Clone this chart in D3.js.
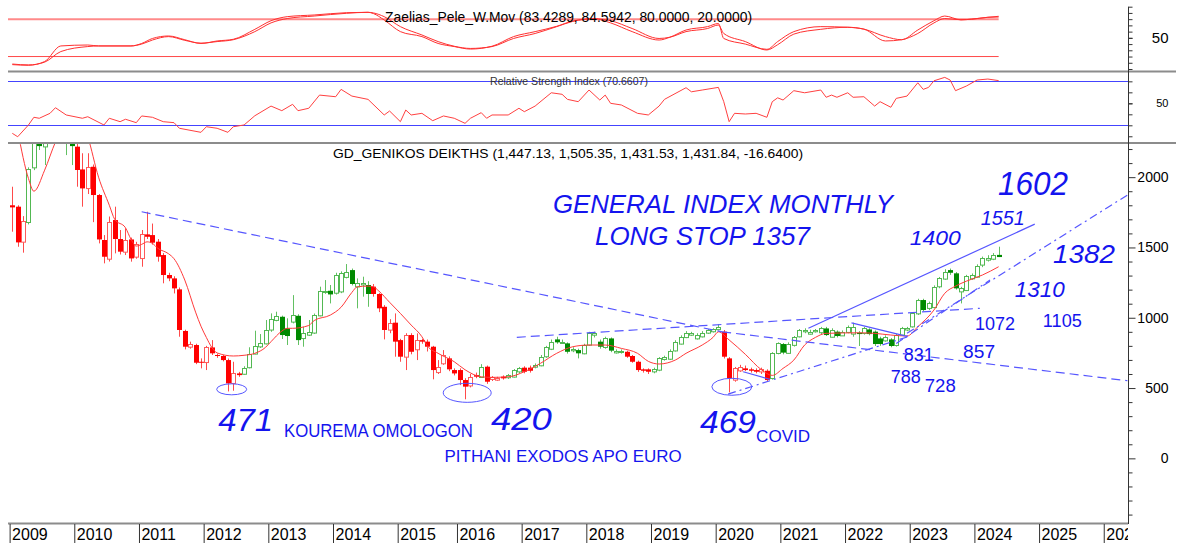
<!DOCTYPE html>
<html>
<head>
<meta charset="utf-8">
<script src="https://cdn.jsdelivr.net/npm/d3@7"></script>
<style>
  html, body { margin: 0; padding: 0; background: #fff; }
  svg { display: block; font-family: "Liberation Sans", Arial, sans-serif; }
</style>
</head>
<body>
<svg id="chart" width="1180" height="549"></svg>
<script>
// ---- data (monthly bars, Jan 2009 .. May 2024, July 2015 missing: market closed) ----
var years     = ['2009','2010','2011','2012','2013','2014','2015','2016','2017','2018','2019','2020','2021','2022','2023','2024','2025','2026'];
var yearStart = [0, 12, 24, 36, 48, 60, 72, 83, 95, 107, 119, 131, 143, 155, 167, 179, 191, 203];

var opens = [1800,1790,1541,1678,2070,2300,2221,2480,2700,2900,2700,2400,
  2217,2055,1920,2074,1873,1553,1422,1695,1560,1470,1557,1434,
  1422,1593,1588,1541,1446,1304,1280,1202,906,794,806,687,
  687,789,735,728,699,533,604,604,645,747,794,818,
  913,984,1007,924,972,1014,853,882,894,1019,1185,1192,
  1178,1185,1292,1339,1221,1240,1233,1221,1169,1078,913,965,
  841,723,877,775,841,830,794,616,676,711,628,
  628,557,521,592,581,652,562,562,581,576,581,616,
  645,645,652,664,723,782,846,825,818,766,770,747,
  806,877,830,789,853,756,756,758,728,687,633,633,
  616,628,704,711,770,818,865,877,853,870,894,901,
  917,901,711,557,628,640,633,628,616,623,569,747,
  813,752,806,865,901,889,901,894,924,865,901,877,
  901,889,894,889,917,901,853,841,846,806,877,913,
  936,1031,1126,1067,1078,1221,1280,1339,1316,1185,1197,1280,
  1292,1375,1410,1422,1447.13];
var highs = [1932,1800,1723,2070,2340,2360,2520,2760,2950,2960,2750,2450,
  2280,2170,2170,2090,1880,1588,1720,1790,1624,1636,1570,1540,
  1624,1754,1670,1560,1460,1320,1295,1215,915,830,815,711,
  800,841,745,735,710,687,615,655,790,908,884,984,
  1031,1043,1015,996,1161,1025,936,984,1030,1221,1268,1233,
  1320,1330,1382,1350,1280,1292,1260,1240,1175,1090,990,1031,
  850,890,890,889,850,845,800,699,770,725,640,
  640,570,600,610,670,660,585,580,590,600,635,650,
  655,660,675,735,800,845,865,845,825,790,780,815,
  900,901,845,865,860,775,775,765,735,695,640,640,
  645,720,730,775,840,875,905,900,890,905,920,925,
  955,913,720,650,665,660,645,640,645,633,755,825,
  820,825,870,920,925,915,920,935,935,925,910,910,
  945,965,905,935,925,910,865,875,855,885,935,935,
  1040,1135,1135,1115,1230,1290,1345,1350,1325,1220,1305,1315,
  1380,1435,1445,1460,1505.35];
var lows = [1612,1505,1463,1664,2050,2193,2086,2440,2650,2550,2157,2086,
  1932,1790,1880,1680,1529,1387,1400,1458,1450,1446,1399,1420,
  1363,1560,1520,1399,1245,1260,1173,865,775,780,670,640,
  628,735,715,690,476,481,580,595,640,740,785,810,
  900,975,849,806,960,806,794,870,885,1010,1170,1102,
  1165,1175,1280,1230,1067,1150,1078,1150,1040,846,890,723,
  687,628,740,699,815,760,562,600,665,620,590,
  521,420,505,570,575,530,550,550,560,565,575,605,
  605,610,640,655,715,770,815,815,745,755,711,740,
  800,860,780,780,755,745,745,715,680,615,610,600,
  605,620,695,700,760,810,855,870,845,860,885,895,
  910,710,469,545,615,620,610,605,600,545,560,740,
  740,745,795,860,890,880,895,885,870,860,860,870,
  890,865,799,880,875,799,800,830,790,795,870,905,
  930,1020,1045,1055,1070,1210,1270,1305,1200,1102,1190,1270,
  1285,1360,1400,1410,1431.53];
var closes = [1785,1536,1688,2055,2300,2221,2480,2700,2900,2700,2400,2221,
  2051,1920,2070,1873,1557,1434,1683,1560,1470,1553,1422,1524,
  1593,1576,1534,1434,1304,1280,1209,913,794,813,680,680,
  794,747,728,699,533,604,592,645,739,801,818,913,
  988,1012,877,870,1019,841,889,901,1019,1192,1192,1166,
  1304,1316,1327,1240,1245,1250,1169,1169,1067,913,960,830,
  723,877,758,841,830,794,628,652,735,633,604,
  557,510,581,581,652,545,576,574,569,592,628,640,
  616,623,664,723,789,830,825,830,758,775,747,806,
  889,889,794,853,766,766,761,723,687,628,623,616,
  633,711,718,766,830,865,894,889,877,894,913,917,
  932,723,569,640,652,628,623,616,633,557,747,818,
  752,815,862,910,910,901,910,924,877,913,870,901,
  936,936,884,924,884,813,813,865,799,877,924,924,
  1031,1126,1055,1102,1221,1280,1327,1320,1209,1209,1297,1304,
  1368,1422,1422,1448.48,1431.84];

// bar ranges where the system shows the market in an up regime (green candles)
var upRegimes = [[3,11],[43,66],[87,87],[92,94],[97,113],[119,131],[141,183]];

// red moving average on the price panel: [bar, value]
var maLine = [[1,2330],[3,1990],[4,1900],[6,2050],[8,2250],[9,2330],[11,2500],[13,2400],[14,2290],
  [16,2000],[18,1800],[19,1700],[21,1640],[22,1560],[23,1510],[24,1522],[25,1540],[26,1529],[27,1494],
  [29,1455],[30,1420],[32,1268],[34,1040],[35,940],[36,860],[37,790],[38,750],[41,728],[43,733],
  [45,747],[47,790],[48,830],[50,905],[51,925],[52,925],[55,945],[56,980],[59,1019],[61,1075],
  [63,1180],[64,1220],[66,1225],[67,1220],[68,1190],[70,1110],[72,1031],[74,948],[76,865],[77,800],
  [79,747],[82,687],[84,630],[87,580],[89,576],[92,580],[95,616],[98,676],[101,747],[104,794],
  [107,806],[110,806],[113,782],[116,747],[118,690],[120,671],[123,699],[125,747],[128,806],
  [130,860],[131,900],[133,842],[136,740],[139,630],[141,590],[143,640],[145,699],[147,806],
  [149,860],[151,889],[157,893],[160,889],[163,877],[166,870],[168,936],[171,1055],[173,1174],
  [175,1225],[177,1260],[180,1304],[183,1363]];

// Zaelias_Pele_W.Mov: [bar, line 1, line 2]
var zaelias = [[0,7,8],[3,6,6.5],[6,12,11],[9,37,28],[14,38.5,36],[16,37,37],[22,37,37],[24,41,40],
  [26,49,46.5],[29,53,52],[32,47,46],[35,41,41.5],[38,45,44],[41,47.7,47],[45,63.7,60],[48,77.5,74],
  [51,84,81],[56,86.7,85],[62,90.4,89.4],[66,91,91],[67,89,90],[69,78.6,84],[72,60,68],[76,52,54.6],
  [79,41,44],[82,36,36.5],[85,32,33],[89,36.5,36],[93,52,49],[97,60,57],[101,68.5,68],[104,77,76.5],
  [108,80.7,80.7],[111,74,77.5],[115,60,65],[120,46.5,49],[122,51,51],[125,62.6,60],[129,68,65],
  [131,73,70.6],[132,49,57],[136,40,44],[140,31.6,30.5],[142,44,39],[145,60,56],[150,68,63.7],
  [155,67,67],[158,64,64],[162,52,45],[165,47,47],[168,62.6,57],[171,77.5,74],[173,85,81],
  [176,79,79],[178,80,80],[181,83,83],[183,83.43,84.59]];
var zLevels = [80, 20];

// Relative Strength Index: [bar, value]
var rsi = [[0,22.7],[1,19.6],[3,30.3],[4,37.3],[5,36.4],[7,40.9],[8,46],[10,39.4],[13,36.4],[14,37.8],
  [17,30.3],[18,36.4],[20,33.3],[21,35.5],[23,32.4],[24,38.5],[26,37.3],[28,33.3],[30,32.4],[31,27.3],
  [35,23.6],[36,28.7],[38,27.3],[40,23.6],[41,28.7],[43,30.3],[45,38.7],[48,47.5],[50,43.3],[52,49.1],
  [53,43.3],[55,45.5],[57,57.5],[60,56],[61,62.7],[63,56.6],[66,53.6],[69,39.4],[70,43],[72,33.3],
  [73,43.9],[74,39.4],[76,40.9],[78,34.2],[80,38.5],[82,36.4],[84,31.8],[85,36.4],[87,41.5],[88,36.4],
  [89,39.4],[92,39.4],[94,45.5],[95,42.4],[97,47.5],[100,59.6],[102,58.2],[103,53.6],[105,51.5],
  [107,62.1],[109,53],[110,57.5],[111,50],[113,48.5],[116,40.9],[118,39.4],[120,47.5],[121,53.6],
  [125,64.2],[126,60.5],[128,62.1],[131,64.5],[132,51.5],[133,33.3],[134,40.9],[136,40.3],[138,40.9],
  [140,37.3],[141,51.5],[142,55],[143,53],[145,61.5],[147,59.6],[150,62.1],[151,55.5],[152,57.5],
  [153,55.5],[155,59.6],[156,55.5],[158,56],[160,47.5],[161,51.5],[163,46.4],[164,54.5],[166,56.6],
  [168,68.7],[169,62.7],[170,64.5],[171,70.5],[173,73.6],[174,71.2],[175,61.5],[177,65.7],[179,71.2],
  [181,72.1],[183,70.66]];
var rsiLevels = [70, 30];

// hand drawn trend lines: [bar, value] end points
var trendLines = [
  { a: [24.0, 1754],  b: [131.7, 900],  kind: 'dash' },
  { a: [131.7, 900],  b: [206.9, 552],  kind: 'dash' },
  { a: [93.6, 861],   b: [179.5, 1067], kind: 'dash' },
  { a: [147.7, 925],  b: [189.7, 1666], kind: 'solid' },
  { a: [155.7, 964],  b: [166, 868],    kind: 'solid' },
  { a: [135.6, 616],  b: [140.6, 562],  kind: 'solid' },
  { a: [132.8, 457],  b: [166.6, 870],  kind: 'dashdot' },
  { a: [166, 889],    b: [206.9, 1873], kind: 'dashdot' },
  { a: [164, 817],    b: [181.4, 1268], kind: 'dashdot' }
];
var lowRings = [[40.7, 491, 15, 5.5], [84.4, 466, 24, 9.5], [133.5, 509, 20, 8.5]];

var notes = [
  { t: 'GENERAL INDEX MONTHLY', i: 100.3, v: 1744, hand: true, size: 26, len: 340 },
  { t: 'LONG STOP 1357',        i: 108.1, v: 1520, hand: true, size: 26, len: 215 },
  { t: '1602', i: 182.9, v: 1873, hand: true, size: 33, len: 70 },
  { t: '1551', i: 179.7, v: 1660, hand: true, size: 21, len: 44 },
  { t: '1400', i: 166.5, v: 1518, hand: true, size: 20, len: 51 },
  { t: '1382', i: 193.1, v: 1389, hand: true, size: 25, len: 62 },
  { t: '1310', i: 186.0, v: 1148, hand: true, size: 22, len: 50 },
  { t: '471',  i: 38.2,  v: 194,  hand: true, size: 32, len: 55 },
  { t: '420',  i: 88.8,  v: 201,  hand: true, size: 31, len: 61 },
  { t: '469',  i: 127.6, v: 180,  hand: true, size: 31, len: 56 },
  { t: '1072', i: 178.6, v: 912,  size: 18, len: 40 },
  { t: '1105', i: 191.2, v: 934,  size: 18, len: 39 },
  { t: '831',  i: 165.4, v: 692,  size: 18, len: 30 },
  { t: '857',  i: 176.4, v: 713,  size: 18, len: 32 },
  { t: '788',  i: 163.0, v: 536,  size: 18, len: 30 },
  { t: '728',  i: 169.3, v: 472,  size: 18, len: 31 },
  { t: 'KOUREMA OMOLOGON',        i: 50.4,  v: 152, size: 18, len: 189 },
  { t: 'PITHANI EXODOS APO EURO', i: 80.2,  v: -26, size: 17, len: 237 },
  { t: 'COVID',                   i: 138.0, v: 116, size: 16, len: 54 }
];

// ---- layout ----
var svg = d3.select('#chart'),
    left = 8,
    right = 1128,
    x = d3.scaleLinear().domain([-0.8, 207]).range([left, right]),
    yTop = d3.scaleLinear().domain([0, 100]).range([69, 6.7]),
    yRsi = d3.scaleLinear().domain([13.9, 78.5]).range([143, 72]),
    yMain = d3.scaleLinear().domain([-467, 2243]).range([524, 143]),
    lastBar = closes.length - 1,
    blue = '#1414ee',
    lineBlue = '#5656ff';

var defs = svg.append('defs');
function clip( id, x0, y0, x1, y1 ) {
  defs.append('clipPath').attr('id', id)
    .append('rect').attr('x', x0).attr('y', y0).attr('width', x1 - x0).attr('height', y1 - y0);
}
clip('clipTop', left, 4, right, 71);
clip('clipRsi', left, 72, right, 143);
clip('clipMain', left, 144, right, 523);
clip('clipX', 0, 524, right, 549);

// ---- top panel: Zaelias ----
var gTop = svg.append('g').attr('clip-path', 'url(#clipTop)');

gTop.selectAll('line.level')
  .data(zLevels)
  .enter().append('line')
  .attr('x1', x(-0.8)).attr('x2', x(lastBar))
  .attr('y1', function( d ) { return yTop(d); })
  .attr('y2', function( d ) { return yTop(d); })
  .attr('stroke', function( d ) { return d === 80 ? '#ff8a8a' : '#ff4a4a'; })
  .attr('stroke-width', function( d ) { return d === 80 ? 2 : 1; });

[1, 2].forEach(function( k ) {
  gTop.append('path')
    .datum(zaelias)
    .attr('fill', 'none')
    .attr('stroke', '#ff3030')
    .attr('stroke-width', 1)
    .attr('d', d3.line()
      .x(function( d ) { return x(d[0]); })
      .y(function( d ) { return yTop(d[k]); })
      .curve(d3.curveMonotoneX));
});

svg.append('text')
  .attr('x', 385).attr('y', 22)
  .attr('font-size', 14)
  .attr('textLength', 367).attr('lengthAdjust', 'spacingAndGlyphs')
  .text('Zaelias_Pele_W.Mov (83.4289, 84.5942, 80.0000, 20.0000)');

// ---- RSI panel ----
var gRsi = svg.append('g').attr('clip-path', 'url(#clipRsi)');

gRsi.selectAll('line.level')
  .data(rsiLevels)
  .enter().append('line')
  .attr('x1', left).attr('x2', right)
  .attr('y1', function( d ) { return Math.round(yRsi(d)) + 0.5; })
  .attr('y2', function( d ) { return Math.round(yRsi(d)) + 0.5; })
  .attr('stroke', '#4444ff')
  .attr('stroke-width', 1);

gRsi.append('path')
  .datum(rsi)
  .attr('fill', 'none')
  .attr('stroke', '#ff4040')
  .attr('stroke-width', 1)
  .attr('d', d3.line()
    .x(function( d ) { return x(d[0]); })
    .y(function( d ) { return yRsi(d[1]); }));

svg.append('text')
  .attr('x', 490).attr('y', 85)
  .attr('font-size', 10)
  .attr('fill', '#333')
  .attr('textLength', 158).attr('lengthAdjust', 'spacingAndGlyphs')
  .text('Relative Strength Index (70.6607)');

// ---- price panel ----
var gMain = svg.append('g').attr('clip-path', 'url(#clipMain)');

function isUp( i ) {
  return upRegimes.some(function( r ) { return i >= r[0] && i <= r[1]; });
}

var bars = closes.map(function( c, i ) {
  return { i: i, o: opens[i], h: highs[i], l: lows[i], c: c, rise: c >= opens[i], up: isUp(i) };
});

var candle = gMain.selectAll('g.bar')
  .data(bars)
  .enter().append('g')
  .attr('class', 'bar');

candle.append('line')
  .attr('x1', function( d ) { return Math.round(x(d.i)) + 0.5; })
  .attr('x2', function( d ) { return Math.round(x(d.i)) + 0.5; })
  .attr('y1', function( d ) { return yMain(d.h); })
  .attr('y2', function( d ) { return yMain(d.l); })
  .attr('stroke', function( d ) { return d.up ? '#62c062' : '#ff4a4a'; })
  .attr('stroke-width', 1);

candle.append('rect')
  .attr('x', function( d ) {
    var cx = Math.round(x(d.i));
    return d.rise ? cx - 1.5 : cx - 2;
  })
  .attr('width', function( d ) { return d.rise ? 4 : 5; })
  .attr('y', function( d ) {
    var top = yMain(Math.max(d.o, d.c));
    return d.rise ? Math.round(top) + 0.5 : top;
  })
  .attr('height', function( d ) {
    return Math.max(1, Math.abs(yMain(d.o) - yMain(d.c)));
  })
  .attr('fill', function( d ) {
    if ( d.rise ) { return '#fff'; }
    return d.up ? '#008a00' : '#ff0000';
  })
  .attr('stroke', function( d ) {
    if ( !d.rise ) { return 'none'; }
    return d.up ? '#52b852' : '#ff5a5a';
  })
  .attr('stroke-width', 1);

gMain.append('path')
  .datum(maLine)
  .attr('fill', 'none')
  .attr('stroke', '#ff3a3a')
  .attr('stroke-width', 1)
  .attr('d', d3.line()
    .x(function( d ) { return x(d[0]); })
    .y(function( d ) { return yMain(d[1]); })
    .curve(d3.curveMonotoneX));

// trend lines and rings
gMain.selectAll('line.trend')
  .data(trendLines)
  .enter().append('line')
  .attr('class', 'trend')
  .attr('x1', function( d ) { return x(d.a[0]); })
  .attr('y1', function( d ) { return yMain(d.a[1]); })
  .attr('x2', function( d ) { return x(d.b[0]); })
  .attr('y2', function( d ) { return yMain(d.b[1]); })
  .attr('stroke', lineBlue)
  .attr('stroke-width', 1.2)
  .attr('stroke-dasharray', function( d ) {
    if ( d.kind === 'dash' ) { return '9,5'; }
    if ( d.kind === 'dashdot' ) { return '8,4,2,4'; }
    return null;
  });

gMain.selectAll('ellipse')
  .data(lowRings)
  .enter().append('ellipse')
  .attr('cx', function( d ) { return x(d[0]); })
  .attr('cy', function( d ) { return yMain(d[1]); })
  .attr('rx', function( d ) { return d[2]; })
  .attr('ry', function( d ) { return d[3]; })
  .attr('fill', 'none')
  .attr('stroke', lineBlue)
  .attr('stroke-width', 1);

// handwritten notes use an italic face with a tight line box so stacked lines don't collide
gMain.selectAll('text.note')
  .data(notes)
  .enter().append('text')
  .attr('class', 'note')
  .attr('x', function( d ) { return x(d.i); })
  .attr('y', function( d ) { return yMain(d.v); })
  .attr('fill', blue)
  .attr('font-size', function( d ) { return d.size; })
  .attr('font-style', function( d ) { return d.hand ? 'italic' : 'normal'; })
  .attr('font-weight', 400)
  .attr('font-family', '"Liberation Sans", Arial, sans-serif')
  .attr('textLength', function( d ) { return d.len; })
  .attr('lengthAdjust', 'spacingAndGlyphs')
  .text(function( d ) { return d.t; });

svg.append('text')
  .attr('x', 333).attr('y', 158)
  .attr('font-size', 13.5)
  .attr('textLength', 470).attr('lengthAdjust', 'spacingAndGlyphs')
  .text('GD_GENIKOS DEIKTHS (1,447.13, 1,505.35, 1,431.53, 1,431.84, -16.6400)');

// ---- frames ----
[71.5, 143].forEach(function( y ) {
  svg.append('line')
    .attr('x1', left).attr('x2', 1176)
    .attr('y1', y).attr('y2', y)
    .attr('stroke', '#8c8c8c').attr('stroke-width', 2);
});
svg.append('line')
  .attr('x1', left).attr('x2', right)
  .attr('y1', 523.5).attr('y2', 523.5)
  .attr('stroke', '#8c8c8c').attr('stroke-width', 2);

// ---- right axes ----
function rightAxis( scale, values, size, labels, fontSize ) {
  var g = svg.append('g')
    .attr('transform', 'translate(' + (right + 0.5) + ',0)')
    .call(d3.axisRight(scale)
      .tickValues(values)
      .tickSize(size)
      .tickSizeOuter(0)
      .tickFormat(labels ? d3.format('d') : ''));
  g.select('.domain').remove();
  g.selectAll('line').attr('stroke', '#333');
  g.selectAll('text')
    .attr('text-anchor', 'end')
    .attr('x', 40)
    .attr('fill', '#000')
    .attr('font-size', fontSize)
    .attr('font-family', '"Liberation Sans", Arial, sans-serif');
  return g;
}

rightAxis(yTop, d3.range(0, 101, 10), 4, false);
rightAxis(yTop, [50], 4, true, 15);
rightAxis(yRsi, d3.range(20, 71, 10), 4, false);
rightAxis(yRsi, [50], 4, true, 11);
rightAxis(yMain, d3.range(-400, 2201, 100).filter(function( v ) { return v % 500 !== 0; }), 4, false);
rightAxis(yMain, [0, 500, 1000, 1500, 2000], 7, true, 14);

svg.append('line')
  .attr('x1', right + 0.5).attr('x2', right + 0.5)
  .attr('y1', 6.7).attr('y2', 524)
  .attr('stroke', '#333').attr('stroke-width', 1);

// ---- year axis ----
var gx = svg.append('g')
  .attr('clip-path', 'url(#clipX)')
  .append('g')
  .attr('transform', 'translate(0,524)')
  .call(d3.axisBottom(x)
    .tickValues(yearStart.map(function( d ) { return d - 0.5; }))
    .tickSize(19)
    .tickSizeOuter(0)
    .tickFormat(function( d, k ) { return years[k]; }));

gx.select('.domain').remove();
gx.selectAll('line').attr('stroke', '#333');
gx.selectAll('text')
  .attr('text-anchor', 'start')
  .attr('x', 2)
  .attr('y', 5)
  .attr('fill', '#000')
  .attr('font-size', 16)
  .attr('font-family', '"Liberation Sans", Arial, sans-serif');
</script>
</body>
</html>
